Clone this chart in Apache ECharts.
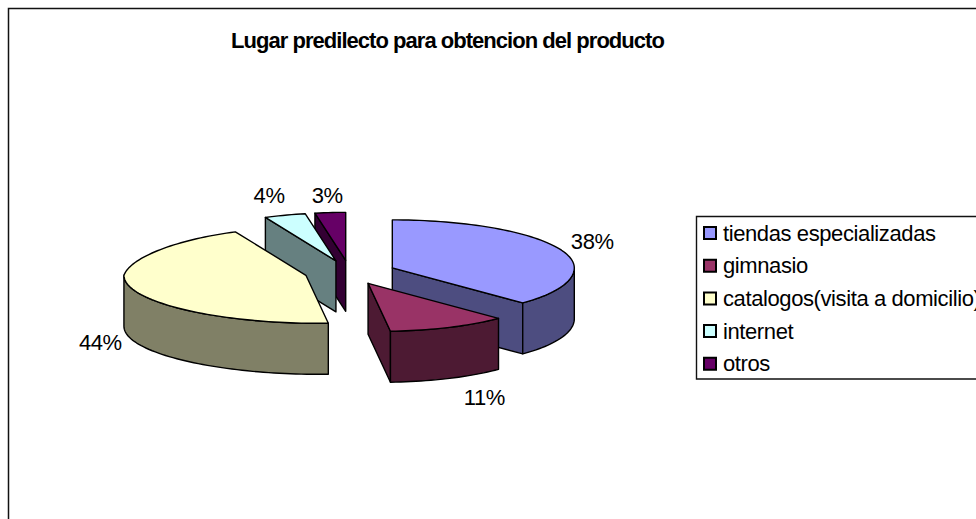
<!DOCTYPE html>
<html>
<head>
<meta charset="utf-8">
<style>
html,body{margin:0;padding:0;background:#fff;overflow:hidden}
#c{width:976px;height:519px}
svg text{letter-spacing:-0.4px}
svg text[style*="bold"]{letter-spacing:-0.97px}
</style>
<script src="https://cdn.jsdelivr.net/npm/echarts@6/dist/echarts.min.js"></script>
</head>
<body>
<div id="c"></div>
<script>
const titleText = 'Lugar predilecto para obtencion del producto';
const categories = ['tiendas especializadas', 'gimnasio', 'catalogos(visita a domicilio)', 'internet', 'otros'];
const values = [38, 11, 44, 4, 3];
const topColors = ['#9999FF', '#993366', '#FFFFCC', '#CCFFFF', '#660066'];
const sideColors = ['#4D4D80', '#4D1A33', '#808066', '#668080', '#330033'];
const drawRank = [3, 5, 4, 2, 1];
const labelShift = [[1, -2], [22, 3], [1, 0], [-6, -3], [0, 1]];

const FONT = '"Liberation Sans", Arial, sans-serif';
const pie = { cx: 350, cy: 272.3, rx: 182, ry: 48, depth: 51, explode: 0.25 };
const total = values.reduce((a, b) => a + b, 0);
const startOf = i => values.slice(0, i).reduce((a, b) => a + b, 0) / total * 2 * Math.PI;

// projected position of angle t (clockwise from 12 o'clock), with the slight
// perspective lean of the original's arcs
function project(ox, oy, t, r) {
  const s = Math.sin(t), c = Math.cos(t);
  let lean = 0;
  if (c < 0) lean = 11 * c * c;
  else if (s < 0) lean = -18 * s * c;
  return [ox + r * (pie.rx * s + lean), oy - r * pie.ry * c];
}

function renderSlice(i, api) {
  const a0 = startOf(i);
  const a1 = a0 + api.value(0) / total * 2 * Math.PI;
  const mid = (a0 + a1) / 2;
  const ox = pie.cx + pie.explode * pie.rx * Math.sin(mid);
  const oy = pie.cy - pie.explode * pie.ry * Math.cos(mid);
  const down = p => [p[0], p[1] + pie.depth];
  const line = { stroke: '#000', lineWidth: 1.4, lineJoin: 'round' };
  const arc = (from, to) => {
    const n = Math.max(2, Math.ceil((to - from) / 0.03));
    const pts = [];
    for (let k = 0; k <= n; k++) pts.push(project(ox, oy, from + (to - from) * k / n, 1));
    return pts;
  };
  const face = (points, fill) => ({ type: 'polygon', shape: { points }, style: { fill, ...line } });
  const children = [];
  const apex = [ox, oy];
  // the cut faces that turn towards the viewer
  if (-Math.sin(a0) > 1e-3) {
    const p = project(ox, oy, a0, 1);
    children.push(face([p, apex, down(apex), down(p)], sideColors[i]));
  }
  if (Math.sin(a1) > 1e-3) {
    const p = project(ox, oy, a1, 1);
    children.push(face([apex, p, down(p), down(apex)], sideColors[i]));
  }
  // the outer wall, only along the front half of the rim
  const w0 = Math.max(a0, Math.PI / 2), w1 = Math.min(a1, 1.5 * Math.PI);
  if (w1 > w0) {
    const rim = arc(w0, w1);
    children.push(face(rim.concat(rim.map(down).reverse()), sideColors[i]));
  }
  children.push(face([apex].concat(arc(a0, a1)), topColors[i]));
  // percentage label, set out from the middle of the rim
  const outer = project(ox, oy, mid, 1);
  const front = Math.cos(mid) < 0 ? pie.depth : 0;
  children.push({
    type: 'text',
    style: {
      text: Math.round(api.value(0) / total * 100) + '%',
      x: outer[0] + 32 * Math.sin(mid) + labelShift[i][0],
      y: outer[1] + front - 18 * Math.cos(mid) + labelShift[i][1],
      fill: '#000', font: '22px ' + FONT, align: 'center', verticalAlign: 'middle'
    }
  });
  return { type: 'group', children };
}

const chart = echarts.init(document.getElementById('c'), null, { renderer: 'svg' });
chart.setOption({
  animation: false,
  backgroundColor: '#fff',
  title: {
    text: titleText, left: 442.5, top: 24, textAlign: 'center',
    textStyle: { fontFamily: FONT, fontWeight: 'bold', fontSize: 22, color: '#000' }
  },
  legend: {
    data: categories, orient: 'vertical', left: 703, top: 222,
    icon: 'rect', itemWidth: 12, itemHeight: 12, itemGap: 10.7, padding: 0,
    textStyle: { fontFamily: FONT, fontSize: 22, color: '#000', padding: [0, 0, 0, 2] },
    selectedMode: false
  },
  graphic: [
    { type: 'rect', silent: true, z: 0, shape: { x: 8.5, y: 8.5, width: 1100, height: 700 },
      style: { fill: 'none', stroke: '#111', lineWidth: 1.5 } },
    { type: 'rect', silent: true, z: 0, shape: { x: 696.5, y: 216.5, width: 400, height: 162.5 },
      style: { fill: '#fff', stroke: '#111', lineWidth: 1.4 } }
  ],
  series: categories.map((name, i) => ({
    type: 'custom',
    name,
    coordinateSystem: 'none',
    z: 10 + drawRank[i],
    silent: true,
    data: [values[i]],
    itemStyle: { color: topColors[i], borderColor: '#000', borderWidth: 1 },
    renderItem: (params, api) => renderSlice(i, api)
  }))
});
</script>
</body>
</html>
